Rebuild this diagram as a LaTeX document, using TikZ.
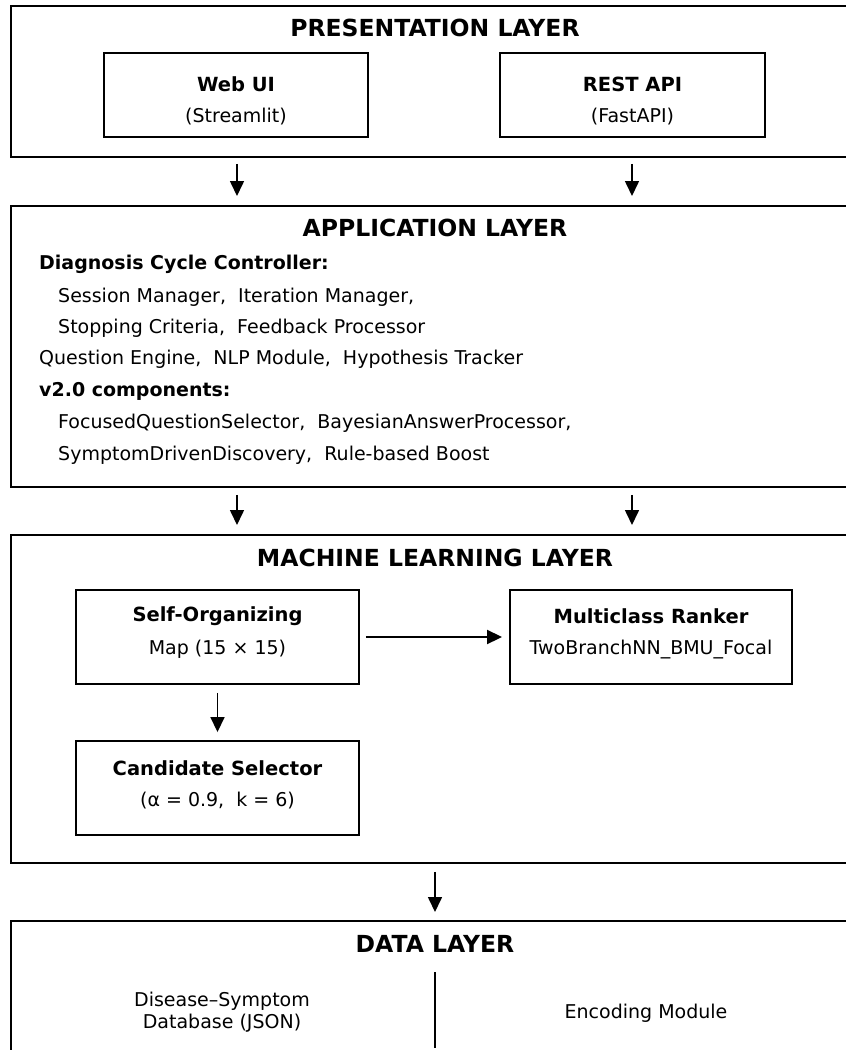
\documentclass[tikz,border=0pt]{standalone}
\usepackage{fontspec}
\setmainfont{DejaVu Sans}
\usetikzlibrary{arrows.meta}
\begin{document}
\begin{tikzpicture}[x=1pt,y=-1pt,
  layer/.style={draw, line width=1.9pt, anchor=north west, inner sep=0pt, minimum width=850pt},
  comp/.style={draw, line width=1.9pt, inner sep=0pt},
  ttl/.style={font=\fontsize{23.5}{28}\selectfont\bfseries, inner sep=0pt},
  ctl/.style={font=\fontsize{19.5}{23}\selectfont\bfseries, inner sep=0pt},
  ctx/.style={font=\fontsize{19}{23}\selectfont, inner sep=0pt},
  txt/.style={font=\fontsize{19}{23}\selectfont, anchor=west, inner sep=0pt},
  btxt/.style={font=\fontsize{19}{23}\selectfont\bfseries, anchor=west, inner sep=0pt},
  arr/.style={-{Triangle[length=15pt,width=14pt]}, line width=1.6pt}]
\clip (0,0) rectangle (846,1050);
\fill[white] (0,0) rectangle (846,1050);

% Presentation layer
\node[layer, minimum height=151pt] (pres) at (10,5) {};
\node[ttl] (prest) at (435,28) {PRESENTATION LAYER};
\node[comp, minimum width=264pt, minimum height=84pt] (web) at (236,95) {};
\node[ctl] (webt) at (236,84) {Web UI};
\node[ctx] (webs) at (236,117) {(Streamlit)};
\node[comp, minimum width=265pt, minimum height=84pt] (rest) at (632.5,95) {};
\node[ctl] (restt) at (632.5,84) {REST API};
\node[ctx] (rests) at (632.5,117) {(FastAPI)};

% Application layer
\node[layer, minimum height=281pt] (app) at (10,205) {};
\node[ttl] (appt) at (435,228) {APPLICATION LAYER};
\node[btxt] (a1) at (39,264) {Diagnosis Cycle Controller:};
\node[txt] (a2) at (58,297) {Session Manager,~ Iteration Manager,};
\node[txt] (a3) at (58,328) {Stopping Criteria,~ Feedback Processor};
\node[txt] (a4) at (39,359) {Question Engine,~ NLP Module,~ Hypothesis Tracker};
\node[btxt] (a5) at (39,391) {v2.0 components:};
\node[txt] (a6) at (58,423) {FocusedQuestionSelector,~ BayesianAnswerProcessor,};
\node[txt] (a7) at (58,455) {SymptomDrivenDiscovery,~ Rule-based Boost};

% ML layer
\node[layer, minimum height=328pt] (ml) at (10,534) {};
\node[ttl] (mlt) at (435,558) {MACHINE LEARNING LAYER};
\node[comp, minimum width=283pt, minimum height=94pt] (som) at (217.5,637) {};
\node[ctl] (somt) at (217.5,616) {Self-Organizing};
\node[ctx] (soms) at (217.5,649) {Map (15 × 15)};
\node[comp, minimum width=282pt, minimum height=94pt] (rank) at (651,637) {};
\node[ctl] (rankt) at (651,616) {Multiclass Ranker};
\node[ctx] (ranks) at (651,650) {TwoBranchNN\_BMU\_Focal};
\node[comp, minimum width=283pt, minimum height=94pt] (cand) at (217.5,788) {};
\node[ctl] (candt) at (217.5,768) {Candidate Selector};
\node[ctx] (cands) at (217.5,801) {(α = 0.9,~ k = 6)};

% Data layer
\node[layer, minimum height=160pt] (data) at (10,920) {};
\node[ttl] (datat) at (435,944) {DATA LAYER};
\coordinate (divtop) at (435,972);
\coordinate (divbot) at (435,1048);
\draw[line width=1.6pt] (divtop) -- (divbot);
\node[ctx, align=center, font=\fontsize{19}{22}\selectfont] (db) at (222,1012) {Disease–Symptom\\Database (JSON)};
\node[ctx] (enc) at (646,1013) {Encoding Module};

% arrows
\coordinate (cx1) at (237,0);
\coordinate (cx2) at (632,0);
\coordinate (cx3) at (435,0);
\draw[arr, shorten <=6pt, shorten >=9pt] (pres.south -| cx1) -- (app.north -| cx1);
\draw[arr, shorten <=6pt, shorten >=9pt] (pres.south -| cx2) -- (app.north -| cx2);
\draw[arr, shorten <=7pt, shorten >=9pt] (app.south -| cx1) -- (ml.north -| cx1);
\draw[arr, shorten <=7pt, shorten >=9pt] (app.south -| cx2) -- (ml.north -| cx2);
\draw[arr, shorten <=8pt, shorten >=8pt] (ml.south -| cx3) -- (data.north -| cx3);
\draw[arr, line width=1.9pt, shorten <=6pt, shorten >=7pt] (som.east) -- (rank.west);
\draw[arr, shorten <=8pt, shorten >=8pt] (som.south) -- (cand.north);
\end{tikzpicture}
\end{document}
